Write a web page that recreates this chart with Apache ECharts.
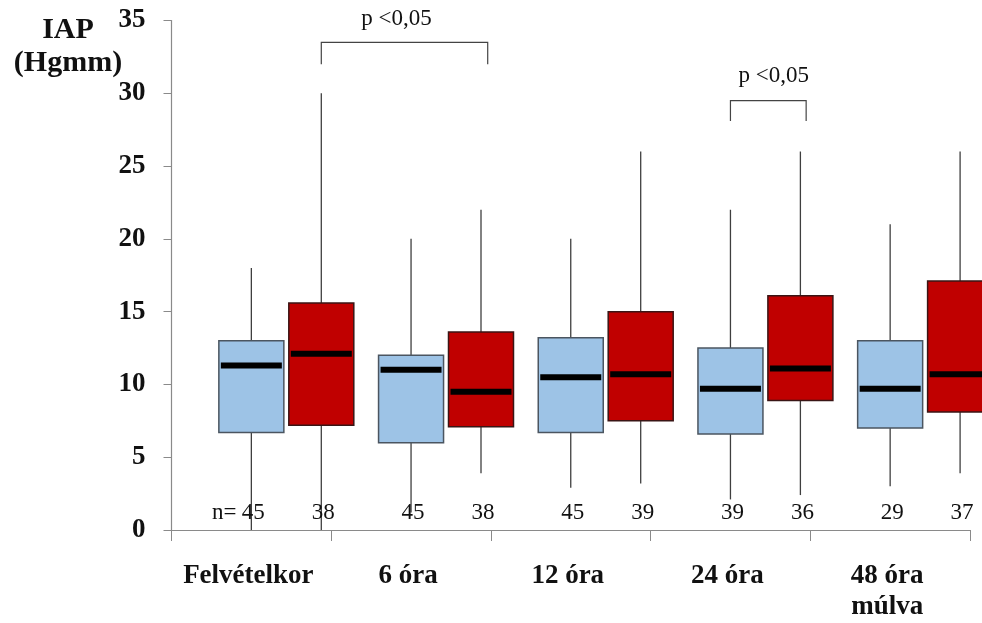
<!DOCTYPE html>
<html>
<head>
<meta charset="utf-8">
<script src="https://cdn.jsdelivr.net/npm/echarts@6/dist/echarts.min.js"></script>
<style>
html,body{margin:0;padding:0;background:#fff;}
#chart{width:982px;height:623px;}
</style>
</head>
<body>
<div id="chart"></div>
<script>
// ---- data ----
const categories = ['Felvételkor', '6 óra', '12 óra', '24 óra', '48 óra\nmúlva'];
// [min, Q1, median, Q3, max]
const blueStats = [
  [0, 6.7, 11.3, 13.0, 18],
  [1.2, 6.0, 11.0, 12.0, 20],
  [2.9, 6.7, 10.5, 13.2, 20],
  [2.1, 6.6, 9.7, 12.5, 22],
  [3.0, 7.0, 9.7, 13.0, 21]
];
const redStats = [
  [0, 7.2, 12.1, 15.6, 30],
  [3.9, 7.1, 9.5, 13.6, 22],
  [3.2, 7.5, 10.7, 15.0, 26],
  [2.4, 8.9, 11.1, 16.1, 26],
  [3.9, 8.1, 10.7, 17.1, 26]
];
const blueN = [45, 45, 45, 39, 29];
const redN = [38, 38, 39, 36, 37];
const yTickMin = 0, yTickMax = 35, yTickStep = 5;
// significance brackets: [startCat, startFrac, endCat, endFrac, topValue, legBottomValue, textCat, textFrac, textValue]
const bracketLabels = ['p <0,05', 'p <0,05'];
const bracketSpans = [
  [0, 0.438, 1, 0.48, 33.5, 32.0, 0, 0.909, 35.1],
  [3, 0.0, 3, 0.474, 29.5, 28.1, 3, 0.271, 31.2]
];

// ---- layout/style constants ----
const SERIF = '"Liberation Serif","Times New Roman",serif';
const BOX_FRAC = 0.407;
const RED_OFFSET = 0.438;
const N_LABEL_VALUE = 1.2;

function boxRenderer(fill, border, offset, ns, prefix) {
  return function (params, api) {
    const i = api.value(0);
    const mn = api.value(1), q1 = api.value(2), md = api.value(3), q3 = api.value(4), mx = api.value(5);
    const base = api.coord([i, 0]);
    const band = api.size([1, 0])[0];
    const cx = base[0] + offset * band;
    const w = BOX_FRAC * band;
    const y = v => api.coord([i, v])[1];
    const wStyle = { stroke: '#3f3f3f', lineWidth: 1.3 };
    const children = [
      { type: 'line', shape: { x1: cx, y1: y(mx), x2: cx, y2: y(q3) }, style: wStyle },
      { type: 'line', shape: { x1: cx, y1: y(q1), x2: cx, y2: y(mn) }, style: wStyle },
      { type: 'rect', shape: { x: cx - w / 2, y: y(q3), width: w, height: y(q1) - y(q3) },
        style: { fill: fill, stroke: border, lineWidth: 1.5 } },
      { type: 'line', shape: { x1: cx - w / 2 + 2, y1: y(md), x2: cx + w / 2 - 2, y2: y(md) },
        style: { stroke: '#000', lineWidth: 6 } },
      { type: 'text', style: { text: String(ns[i]), x: cx + 2, y: y(N_LABEL_VALUE),
        align: 'center', verticalAlign: 'middle', font: '23px ' + SERIF, fill: '#111' } }
    ];
    if (prefix && i === 0) {
      children.push({ type: 'text', style: { text: 'n=', x: cx - 15, y: y(N_LABEL_VALUE),
        align: 'right', verticalAlign: 'middle', font: '23px ' + SERIF, fill: '#111' } });
    }
    return { type: 'group', children: children };
  };
}

function bracketRenderer(params, api) {
  const k = params.dataIndex;
  const b = bracketSpans[k];
  const band = api.size([1, 0])[0];
  const x1 = api.coord([b[0], 0])[0] + b[1] * band;
  const x2 = api.coord([b[2], 0])[0] + b[3] * band;
  const xt = api.coord([b[6], 0])[0] + b[7] * band;
  const yTop = api.coord([b[0], b[4]])[1];
  const yBot = api.coord([b[0], b[5]])[1];
  const yTxt = api.coord([b[0], b[8]])[1];
  const st = { stroke: '#444', lineWidth: 1.2, fill: null };
  return { type: 'group', children: [
    { type: 'polyline', shape: { points: [[x1, yBot], [x1, yTop], [x2, yTop], [x2, yBot]] }, style: st },
    { type: 'text', style: { text: bracketLabels[k], x: xt, y: yTxt,
      align: 'center', verticalAlign: 'middle', font: '23px ' + SERIF, fill: '#111' } }
  ] };
}

const chart = echarts.init(document.getElementById('chart'), null, { renderer: 'canvas' });
chart.setOption({
  backgroundColor: '#fff',
  animation: false,
  grid: { left: 171.5, right: 12, top: 20.5, bottom: 91 },
  graphic: [{
    type: 'text', x: 68, y: 14,
    style: { text: 'IAP\n(Hgmm)', fontFamily: SERIF, fontWeight: 'bold', fontSize: 30, fill: '#111',
      align: 'center', textAlign: 'center', verticalAlign: 'top', lineHeight: 33 }
  }],
  xAxis: {
    type: 'category',
    data: categories,
    axisLine: { lineStyle: { color: '#8a8a8a', width: 1.2 } },
    axisTick: { show: true, interval: 0, length: 11, lineStyle: { color: '#8a8a8a' } },
    axisLabel: { interval: 0, margin: 31, fontFamily: SERIF, fontWeight: 'bold', fontSize: 27, color: '#111',
      lineHeight: 31, verticalAlign: 'top', padding: [0, 6, 0, 0] },
    splitLine: { show: false }
  },
  yAxis: {
    type: 'value',
    min: yTickMin, max: yTickMax, interval: yTickStep,
    axisLine: { show: true, lineStyle: { color: '#8a8a8a', width: 1.2 } },
    axisTick: { show: true, length: 8, lineStyle: { color: '#8a8a8a' } },
    axisLabel: { margin: 26, fontFamily: SERIF, fontWeight: 'bold', fontSize: 27, color: '#111' },
    splitLine: { show: false }
  },
  series: [
    { type: 'custom', name: 'blue', clip: false,
      renderItem: boxRenderer('#9DC3E6', '#4b5560', 0, blueN, true),
      encode: { x: 0, y: [1, 2, 3, 4, 5] },
      data: blueStats.map((s, i) => [i].concat(s)) },
    { type: 'custom', name: 'red', clip: false,
      renderItem: boxRenderer('#C00000', '#3a1515', RED_OFFSET, redN, false),
      encode: { x: 0, y: [1, 2, 3, 4, 5] },
      data: redStats.map((s, i) => [i].concat(s)) },
    { type: 'custom', name: 'brackets', clip: false, silent: true,
      renderItem: bracketRenderer,
      encode: { x: 0, y: 1 },
      data: bracketSpans.map(b => [b[0], b[4]]) }
  ]
});
</script>
</body>
</html>
